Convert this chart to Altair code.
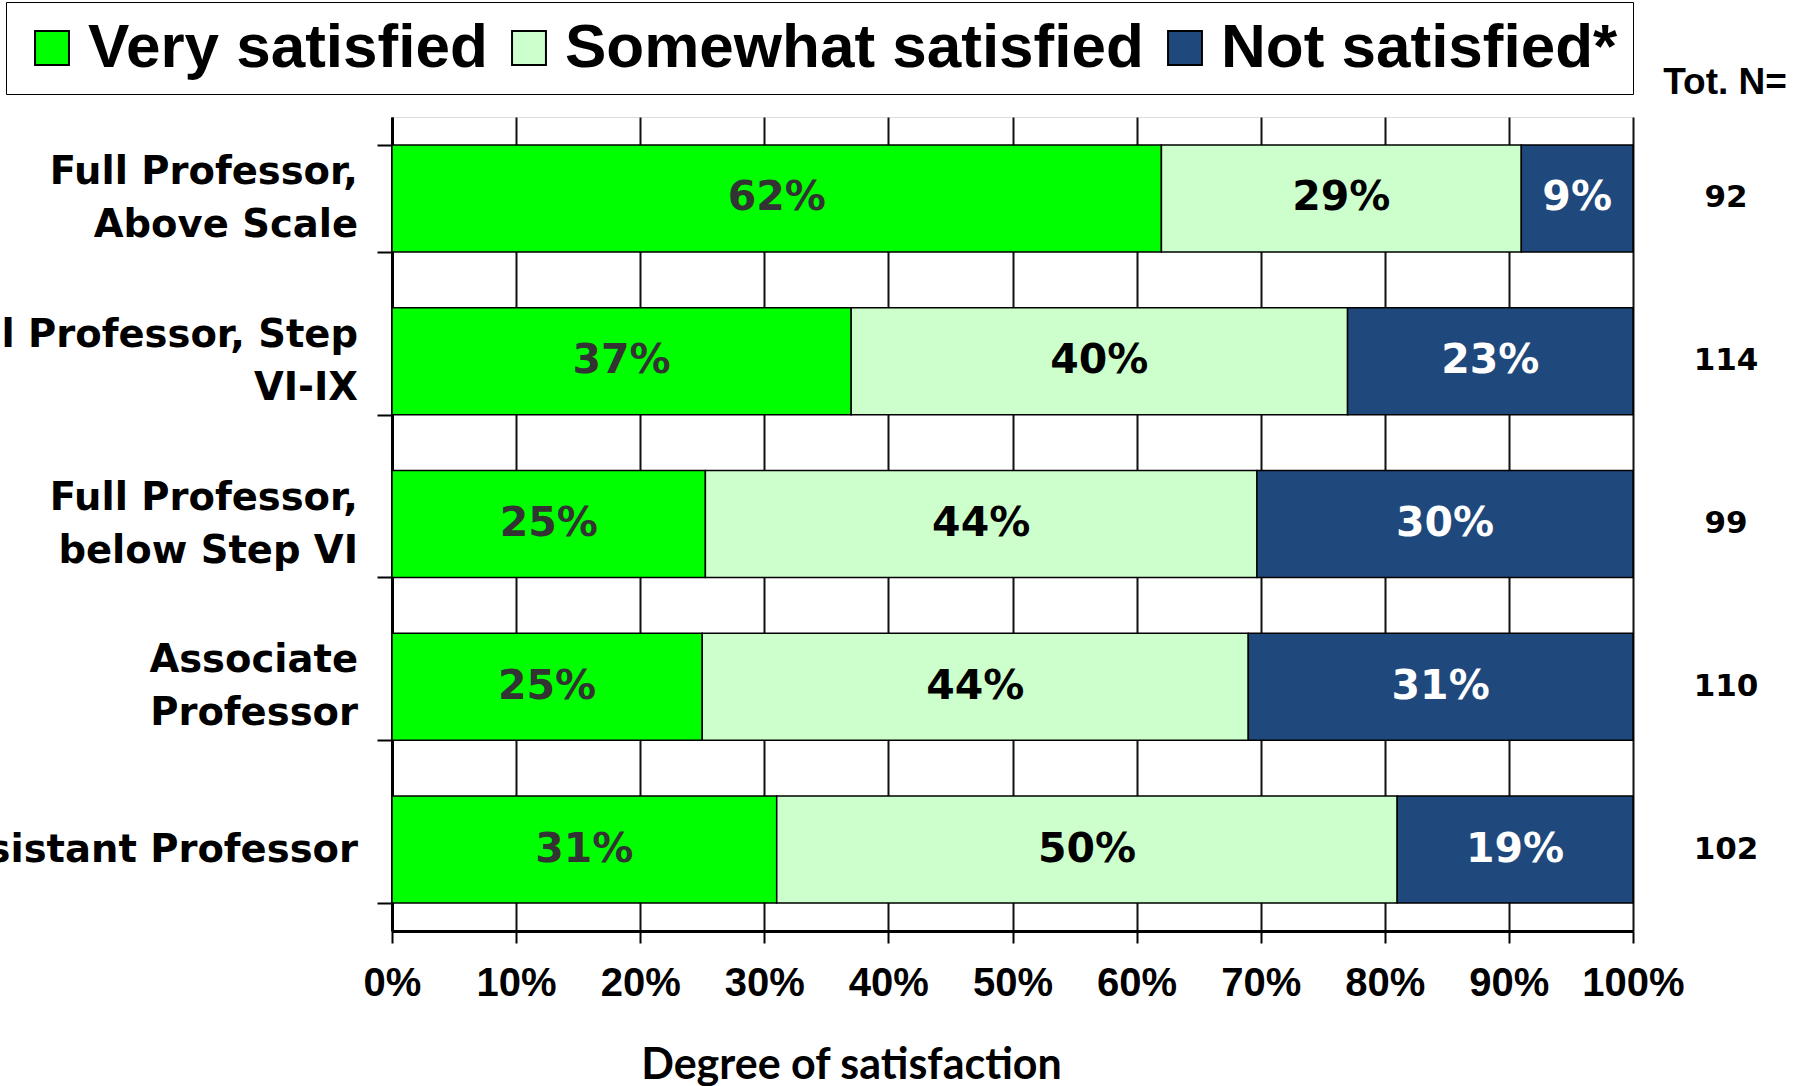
import altair as alt
import pandas as pd

groups = ["Full Professor,\nAbove Scale", "Full Professor, Step\nVI-IX",
          "Full Professor,\nbelow Step VI", "Associate\nProfessor",
          "Assistant Professor"]
series = ["Very satisfied", "Somewhat satisfied", "Not satisfied*"]
very = [62, 37, 25, 25, 31]
somewhat = [29, 40, 44, 44, 50]
notsat = [9, 23, 30, 31, 19]
tot_n = [92, 114, 99, 110, 102]
x_ticks = [0, 0.1, 0.2, 0.3, 0.4, 0.5, 0.6, 0.7, 0.8, 0.9, 1.0]

colors = ["#00FF00", "#CCFFCC", "#1F497D"]

rows = []
for i, g in enumerate(groups):
    for k, (s, vals) in enumerate(zip(series, [very, somewhat, notsat])):
        rows.append({"group": g, "series": s, "order": k, "value": vals[i]})
df = pd.DataFrame(rows)
ndf = pd.DataFrame({"group": groups, "N": tot_n})
tdf = pd.DataFrame({"t": ["Tot. N="]})

yscale = alt.Scale(domain=groups, paddingInner=0.343, paddingOuter=0.1715)
xscale = alt.Scale(domain=[0, 1])

base = alt.Chart(df)

bars = base.mark_bar(stroke="black", strokeWidth=1.5).encode(
    y=alt.Y("group:N", sort=groups, scale=yscale,
            axis=alt.Axis(title=None, tickBand="extent", tickSize=15, tickWidth=2,
                          tickColor="black", domainColor="black", domainWidth=3,
                          labels=False)),
    x=alt.X("value:Q", stack="normalize", scale=xscale,
            axis=alt.Axis(values=x_ticks, format="%", title="Degree of satisfaction",
                          grid=True, gridColor="#111111", gridWidth=2,
                          domainColor="black", domainWidth=3,
                          tickColor="black", tickWidth=2, tickSize=12,
                          labelFont="Liberation Sans", labelFontWeight="bold",
                          labelFontSize=40, labelColor="black", labelPadding=20,
                          labelOverlap=False, labelFlush=False, labelBound=False,
                          titleFont="Liberation Sans Narrow, Lato",
                          titleFontWeight="bold", titleFontSize=43,
                          titleColor="black", titleX=459, titleY=147,
                          titleAlign="center", titleBaseline="alphabetic")),
    color=alt.Color("series:N", sort=series,
                    scale=alt.Scale(domain=series, range=colors),
                    legend=alt.Legend(orient="none", legendX=-386, legendY=-115,
                                      direction="horizontal", title=None,
                                      labelFont="Liberation Sans",
                                      labelFontWeight="bold", labelFontSize=62,
                                      labelColor="black", symbolType="square",
                                      symbolSize=1150, symbolStrokeColor="black",
                                      symbolStrokeWidth=2, labelOffset=5,
                                      columnPadding=10, padding=15,
                                      strokeColor="black", fillColor="white",
                                      labelLimit=0)),
    order=alt.Order("order:Q"),
)

labels = base.transform_joinaggregate(
    total="sum(value)", groupby=["group"]
).transform_window(
    cum="sum(value)", groupby=["group"], sort=[alt.SortField("order")], frame=[None, 0]
).transform_calculate(
    mid="(datum.cum - datum.value / 2) / datum.total",
    txt="datum.value + '%'",
    tc="datum.series === 'Not satisfied*' ? 'white' : (datum.series === 'Very satisfied' ? '#333333' : 'black')",
).mark_text(font="DejaVu Sans", fontWeight="bold", fontSize=41, baseline="middle").encode(
    y=alt.Y("group:N", sort=groups, scale=yscale),
    x=alt.X("mid:Q", scale=xscale),
    text="txt:N",
    color=alt.Color("tc:N", scale=None),
)

# category labels (multi-line, block centred on the band)
lab_base = alt.Chart(ndf).transform_calculate(
    nl="length(split(datum.group, '\\n'))",
    l1="split(datum.group, '\\n')[0]",
    l2="length(split(datum.group, '\\n')) > 1 ? split(datum.group, '\\n')[1] : ''",
)
lab_style = dict(font="DejaVu Sans", fontWeight="bold", fontSize=38.5,
                 align="right", baseline="middle", color="black")
lab_single = lab_base.transform_filter("datum.nl == 1").mark_text(**lab_style).encode(
    y=alt.Y("group:N", sort=groups, scale=yscale), x=alt.value(-34), text="l1:N")
lab_top = lab_base.transform_filter("datum.nl == 2").mark_text(dy=-26.5, **lab_style).encode(
    y=alt.Y("group:N", sort=groups, scale=yscale), x=alt.value(-34), text="l1:N")
lab_bot = lab_base.transform_filter("datum.nl == 2").mark_text(dy=26.5, **lab_style).encode(
    y=alt.Y("group:N", sort=groups, scale=yscale), x=alt.value(-34), text="l2:N")

ntext = alt.Chart(ndf).mark_text(font="DejaVu Sans", fontWeight="bold", fontSize=31,
                                 baseline="middle", color="black").encode(
    y=alt.Y("group:N", sort=groups, scale=yscale),
    x=alt.value(1334),
    text="N:Q",
)

ttext = alt.Chart(tdf).mark_text(font="Liberation Sans", fontWeight="bold", fontSize=37,
                                 baseline="middle", color="black").encode(
    x=alt.value(1333), y=alt.value(-34), text="t:N"
)

chart = alt.layer(bars, labels, lab_single, lab_top, lab_bot, ntext, ttext).properties(
    width=1241, height=814,
    autosize=alt.AutoSizeParams(type="none"),
    padding={"left": 392, "top": 117, "right": 165, "bottom": 155},
).configure_view(
    stroke="black", strokeWidth=2
).configure_legend(strokeWidth=2.5).configure(background="white")

chart.save("out.html", embed_options={"renderer": "svg", "actions": False})
